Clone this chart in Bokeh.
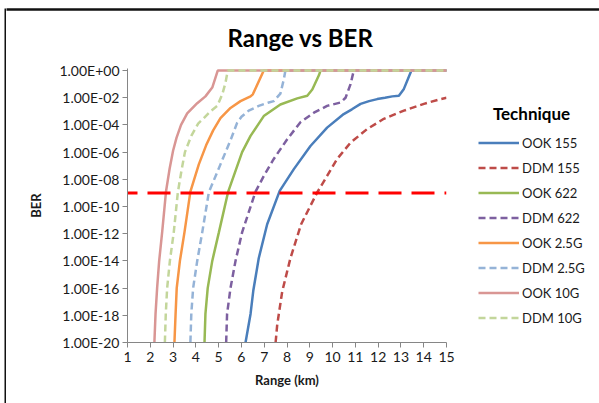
from bokeh.plotting import figure
from bokeh.layouts import column, row
from bokeh.models import (FixedTicker, CustomJSTickFormatter, Legend, LegendItem, Range1d, Label, Spacer)
from bokeh.embed import file_html
from bokeh.resources import INLINE

# ---------------- data ----------------
ook155_x = [6.18, 6.40, 6.52, 6.76, 7.13, 7.68, 8.30, 9.03, 9.76, 10.49, 10.85, 11.23, 11.60, 11.96, 12.30, 12.62, 12.91, 13.13, 13.46, 15]
ook155_ber = [1e-20, 1.26e-18, 6.31e-17, 1.58e-14, 5.01e-12, 1.41e-9, 5.62e-8, 2.82e-6, 6.31e-5, 6.31e-4,
              1.41e-3, 3.55e-3, 5.62e-3, 7.94e-3, 1.0e-2, 1.26e-2, 1.41e-2, 4.47e-2, 1, 1]

ddm155_x = [7.50, 7.57, 7.79, 8.15, 8.62, 9.33, 9.76, 10.20, 10.79, 11.52, 12.25, 13.13, 14.01, 14.74, 15]
ddm155_ber = [1e-20, 2.0e-19, 5.62e-17, 1.58e-14, 5.01e-12, 1.12e-9, 1.78e-8, 3.16e-7, 5.01e-6, 5.01e-5,
              2.82e-4, 1.12e-3, 3.55e-3, 7.94e-3, 1.0e-2]

ook622_x = [4.38, 4.42, 4.52, 4.72, 5.01, 5.42, 6.03, 6.40, 6.98, 7.71, 8.45, 8.89, 9.11, 9.40, 9.47, 15]
ook622_ber = [1e-20, 1.26e-18, 1e-16, 1e-14, 1.26e-12, 1.26e-9, 1e-6, 1.58e-5, 4.47e-4, 3.16e-3,
              8.91e-3, 1.41e-2, 3.98e-2, 4.47e-1, 1, 1]

ddm622_x = [5.33, 5.37, 5.52, 5.74, 6.03, 6.62, 7.00, 7.42, 8.01, 8.59, 9.18, 9.76, 10.35, 10.57, 10.79, 10.93, 15]
ddm622_ber = [1e-20, 1.26e-18, 1e-16, 1e-14, 1.26e-12, 1.26e-9, 2.0e-8, 3.16e-7, 8.91e-6, 1.58e-4,
              7.94e-4, 2.51e-3, 4.47e-3, 1e-2, 1e-1, 1, 1]

ook25_x = [3.06, 3.11, 3.16, 3.30, 3.50, 3.76, 4.13, 4.45, 4.76, 5.08, 5.52, 5.96, 6.40, 6.50, 6.98, 15]
ook25_ber = [1e-20, 1.26e-18, 1e-16, 1e-14, 1.26e-12, 1.26e-9, 1.26e-7, 3.16e-6, 3.98e-5, 3.16e-4,
             1.78e-3, 5.62e-3, 1.26e-2, 1.78e-2, 1, 1]

ddm25_x = [3.76, 3.80, 3.88, 4.06, 4.28, 4.57, 5.08, 5.55, 5.81, 6.00, 6.32, 6.76, 7.20, 7.42, 7.71, 7.86, 7.93, 15]
ddm25_ber = [1e-20, 1.26e-18, 1e-16, 1e-14, 1.26e-12, 1.12e-9, 1.26e-7, 1e-5, 1.41e-4, 3.98e-4,
             1.12e-3, 2.51e-3, 4.47e-3, 5.62e-3, 2.0e-2, 2.24e-1, 1, 1]

ook10_x = [2.18, 2.23, 2.30, 2.39, 2.52, 2.69, 2.85, 3.00, 3.15, 3.35, 3.62, 4.06, 4.42, 4.72, 4.96, 15]
ook10_ber = [1e-20, 1.26e-18, 1e-16, 1e-14, 1.26e-12, 1.26e-9, 6.31e-8, 1.26e-6, 1.12e-5, 1e-4,
             7.08e-4, 3.98e-3, 1.26e-2, 5.62e-2, 1, 1]

ddm10_x = [2.64, 2.68, 2.74, 2.86, 3.03, 3.21, 3.38, 3.52, 3.80, 4.10, 4.35, 4.64, 4.94, 5.16, 5.30, 5.40, 15]
ddm10_ber = [1e-20, 1.26e-18, 1e-16, 1e-14, 1.26e-12, 1.12e-9, 5.62e-8, 1e-6, 1.58e-5, 1.26e-4,
             3.16e-4, 1e-3, 2.51e-3, 1.78e-2, 1.26e-1, 1, 1]

threshold_x = [1, 15]
threshold_ber = [1e-9, 1e-9]

series_names = ["OOK 155", "DDM 155", "OOK 622", "DDM 622", "OOK 2.5G", "DDM 2.5G", "OOK 10G", "DDM 10G"]
x_ticks = list(range(1, 16))
y_ticks = [1e-20, 1e-18, 1e-16, 1e-14, 1e-12, 1e-10, 1e-8, 1e-6, 1e-4, 1e-2, 1]

# ---------------- styling ----------------
FONT = "Lato"
TXT = "#1a1a1a"
AXC = "#868686"
EDGE = "#111111"

series = [
    (series_names[0], ook155_x, ook155_ber, "#4A7EBB", "solid"),
    (series_names[1], ddm155_x, ddm155_ber, "#BE4B48", "7 4"),
    (series_names[2], ook622_x, ook622_ber, "#98B954", "solid"),
    (series_names[3], ddm622_x, ddm622_ber, "#7D60A0", "7 4"),
    (series_names[4], ook25_x, ook25_ber, "#F79646", "solid"),
    (series_names[5], ddm25_x, ddm25_ber, "#95B3D7", "7 4"),
    (series_names[6], ook10_x, ook10_ber, "#D99694", "solid"),
    (series_names[7], ddm10_x, ddm10_ber, "#C3D69B", "7 4"),
]

# vertical geometry shared by the lower row (frames aligned: 68..342 in the window)
ROW_H = 343
TOP_B = 8
BOT_B = 61


def bare(fig):
    fig.outline_line_color = None
    fig.background_fill_color = "white"
    fig.border_fill_color = "white"
    fig.grid.visible = False


# ---- left edge of the chart area: one 2 px strip from the top edge down ----
lf = figure(width=2, height=403, x_range=Range1d(0, 1), y_range=Range1d(0, 1),
            x_axis_location=None, y_axis_location=None,
            output_backend="svg", toolbar_location=None,
            min_border_left=0, min_border_right=0, min_border_top=8, min_border_bottom=0)
lf.outline_line_color = None
lf.grid.visible = False
lf.background_fill_color = EDGE
lf.border_fill_color = "white"

# ---- top band: chart-area top edge and the title ----
tf = figure(width=593, height=60, x_range=Range1d(0, 1), y_range=Range1d(0, 1),
            x_axis_location="above", y_axis_location=None,
            output_backend="svg", toolbar_location=None,
            min_border_left=0, min_border_top=9, min_border_right=0, min_border_bottom=0)
bare(tf)
tf.xaxis.ticker = FixedTicker(ticks=[], minor_ticks=[])
tf.xaxis.axis_line_color = EDGE
tf.xaxis.axis_line_width = 2.5
tf.xaxis.major_tick_out = 0
tf.xaxis.major_tick_in = 0
tf.xaxis.minor_tick_line_color = None
tf.xaxis.major_label_text_font_size = "0px"
tf.add_layout(Label(x=294, y=23, x_units="screen", y_units="screen", text="Range vs BER",
                    text_font=FONT, text_font_style="bold", text_font_size="24px",
                    text_color="#000000", text_align="center", text_baseline="middle"))

# ---- main plot ----
p = figure(width=450, height=ROW_H, x_range=Range1d(1, 15), y_range=Range1d(1e-20, 10 ** 0.15),
           y_axis_type="log", output_backend="svg", toolbar_location=None,
           min_border_left=121, min_border_right=10, min_border_top=TOP_B, min_border_bottom=BOT_B)
bare(p)

for name, xs, ys, color, dash in series:
    p.line(xs, ys, line_color=color, line_width=2.5, line_dash=dash)

p.line(threshold_x, threshold_ber, line_color="#FF0000", line_width=3, line_dash="23 10",
       line_dash_offset=13)

p.xaxis.ticker = FixedTicker(ticks=x_ticks, minor_ticks=[])
p.yaxis.ticker = FixedTicker(ticks=y_ticks, minor_ticks=[])
p.yaxis.formatter = CustomJSTickFormatter(code="""
const e = Math.round(Math.log10(tick));
const s = e < 0 ? "-" : "+";
const a = Math.abs(e);
return "1.00E" + s + (a < 10 ? "0" + a : "" + a);
""")
for ax in (p.xaxis, p.yaxis):
    ax.axis_line_color = AXC
    ax.major_tick_line_color = AXC
    ax.minor_tick_line_color = None
    ax.major_tick_out = 5
    ax.major_tick_in = 0
    ax.major_label_text_font = FONT
    ax.major_label_text_font_size = "14px"
    ax.major_label_text_color = TXT
    ax.axis_label_text_font = FONT
    ax.axis_label_text_font_style = "bold"
    ax.axis_label_text_font_size = "13px"
    ax.axis_label_text_color = TXT
p.xaxis.major_label_standoff = 4
p.yaxis.major_label_standoff = 3
p.xaxis.axis_label = "Range (km)"
p.yaxis.axis_label = "BER"
p.xaxis.axis_label_standoff = 7
p.yaxis.axis_label_standoff = 12

# ---- legend panel (same frame geometry as the main plot) ----
lg = figure(width=143, height=ROW_H, x_range=Range1d(100, 101), y_range=Range1d(0, 1),
            x_axis_location=None, y_axis_location=None,
            output_backend="svg", toolbar_location=None,
            min_border_left=0, min_border_right=0, min_border_top=TOP_B, min_border_bottom=BOT_B)
bare(lg)
items = []
for name, xs, ys, color, dash in series:
    r = lg.line(xs, ys, line_color=color, line_width=2.5, line_dash=dash)
    items.append(LegendItem(label=name, renderers=[r]))
legend = Legend(items=items, location=(22, 12), padding=0, margin=0, spacing=0,
                glyph_width=41, glyph_height=25, label_height=25, label_standoff=3,
                border_line_color=None, background_fill_color=None,
                label_text_font=FONT, label_text_font_size="13px", label_text_color=TXT)
lg.add_layout(legend)
lg.add_layout(Label(x=75, y=229, x_units="screen", y_units="screen", text="Technique",
                    text_font=FONT, text_font_style="bold", text_font_size="17px",
                    text_color="#000000", text_align="center", text_baseline="middle"))

layout = row(Spacer(width=4, height=403), lf, column(tf, row(p, lg)))

open("out.html", "w").write(file_html(layout, INLINE))
